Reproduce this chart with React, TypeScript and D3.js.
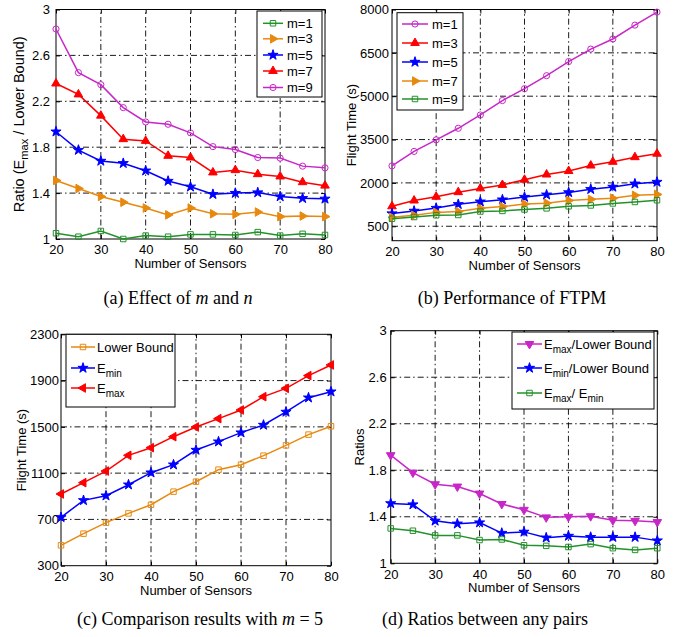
import React, { useRef, useEffect } from 'react';
import * as d3 from 'd3';

// x values shared by every panel
const sensors = [20, 25, 30, 35, 40, 45, 50, 55, 60, 65, 70, 75, 80];
const sensorTicks = [20, 30, 40, 50, 60, 70, 80];

// (a) ratio Emax / lower bound for different m
const ratioM1 = [1.05, 1.02, 1.07, 1.0, 1.03, 1.02, 1.04, 1.04, 1.035, 1.06, 1.03, 1.045, 1.035];
const ratioM3 = [1.51, 1.44, 1.37, 1.32, 1.27, 1.21, 1.27, 1.22, 1.215, 1.235, 1.195, 1.2, 1.195];
const ratioM5 = [1.935, 1.775, 1.68, 1.66, 1.595, 1.505, 1.455, 1.39, 1.4, 1.405, 1.37, 1.355, 1.35];
const ratioM7 = [2.355, 2.26, 2.075, 1.87, 1.855, 1.725, 1.71, 1.58, 1.6, 1.565, 1.545, 1.495, 1.465];
const ratioM9 = [2.83, 2.45, 2.345, 2.145, 2.02, 2.0, 1.925, 1.805, 1.78, 1.71, 1.705, 1.635, 1.62];
const ratioTicks = [1, 1.4, 1.8, 2.2, 2.6, 3];

// (b) flight time of FTPM
const timeM1 = [2590, 3090, 3490, 3890, 4350, 4850, 5260, 5710, 6200, 6630, 6980, 7460, 7910];
const timeM3 = [1190, 1390, 1520, 1680, 1810, 1930, 2110, 2290, 2410, 2600, 2730, 2890, 3010];
const timeM5 = [940, 1030, 1130, 1260, 1350, 1420, 1510, 1590, 1670, 1780, 1860, 1970, 2030];
const timeM7 = [810, 880, 980, 1010, 1120, 1180, 1270, 1300, 1390, 1430, 1470, 1570, 1600];
const timeM9 = [760, 820, 880, 890, 1010, 1030, 1080, 1120, 1190, 1220, 1290, 1340, 1400];
const timeTicksB = [500, 2000, 3500, 5000, 6500, 8000];

// (c) comparison with m = 5
const lowerBound = [476, 577, 672, 752, 827, 940, 1026, 1130, 1173, 1251, 1340, 1433, 1505];
const eMin = [718, 865, 905, 1000, 1104, 1173, 1300, 1372, 1450, 1516, 1629, 1752, 1804];
const eMax = [920, 1018, 1118, 1254, 1320, 1415, 1499, 1571, 1646, 1761, 1833, 1943, 2035];
const timeTicksC = [300, 700, 1100, 1500, 1900, 2300];

// (d) ratios between pairs
const maxOverLb = [1.93, 1.78, 1.68, 1.66, 1.6, 1.51, 1.46, 1.395, 1.4, 1.405, 1.37, 1.365, 1.355];
const minOverLb = [1.515, 1.505, 1.365, 1.34, 1.35, 1.26, 1.27, 1.22, 1.235, 1.225, 1.225, 1.225, 1.195];
const maxOverMin = [1.3, 1.28, 1.24, 1.24, 1.2, 1.205, 1.155, 1.15, 1.14, 1.165, 1.13, 1.115, 1.13];

const GREEN = '#22922a';
const ORANGE = '#e8890f';
const BLUE = '#0000ff';
const RED = '#ff0000';
const MAGENTA = '#c826c8';

const SANS = '"Liberation Sans", Arial, Helvetica, sans-serif';
const SERIF = '"Liberation Serif", "Times New Roman", serif';

type Marker = 'square' | 'circle' | 'star' | 'triUp' | 'triDown' | 'triLeft' | 'triRight';
type Seg = { t: string; sub?: boolean; it?: boolean };
type Series = { label: Seg[]; values: number[]; color: string; marker: Marker };

type Panel = {
  box: [number, number, number, number]; // left, top, right, bottom
  yDomain: [number, number];
  yTicks: number[];
  yPad: number;
  yLabel: Seg[];
  yLabelX: number;
  yLabelSize: number;
  series: Series[];
  legendBox: [number, number, number, number];
  legendRows: number[];
  legendLine: [number, number];
  legendText: number;
  caption: Seg[];
  captionX: number;
  captionY: number;
};

const panels: Panel[] = [
  {
    box: [56, 9.5, 325, 239],
    yDomain: [1, 3],
    yTicks: ratioTicks,
    yPad: 6,
    yLabel: [{ t: 'Ratio (E' }, { t: 'max', sub: true }, { t: ' / Lower Bound)' }],
    yLabelX: 19,
    yLabelSize: 14.5,
    series: [
      { label: [{ t: 'm=1' }], values: ratioM1, color: GREEN, marker: 'square' },
      { label: [{ t: 'm=3' }], values: ratioM3, color: ORANGE, marker: 'triRight' },
      { label: [{ t: 'm=5' }], values: ratioM5, color: BLUE, marker: 'star' },
      { label: [{ t: 'm=7' }], values: ratioM7, color: RED, marker: 'triUp' },
      { label: [{ t: 'm=9' }], values: ratioM9, color: MAGENTA, marker: 'circle' },
    ],
    legendBox: [257, 11, 322, 97],
    legendRows: [23.3, 38.8, 55, 71, 87.5],
    legendLine: [263, 283],
    legendText: 287,
    caption: [{ t: '(a) Effect of ' }, { t: 'm', it: true }, { t: ' and ' }, { t: 'n', it: true }],
    captionX: 178,
    captionY: 304,
  },
  {
    box: [392, 9.5, 657, 240.7],
    yDomain: [0, 8000],
    yTicks: timeTicksB,
    yPad: 3,
    yLabel: [{ t: 'Flight Time (s)' }],
    yLabelX: 351,
    yLabelSize: 13,
    series: [
      { label: [{ t: 'm=1' }], values: timeM1, color: MAGENTA, marker: 'circle' },
      { label: [{ t: 'm=3' }], values: timeM3, color: RED, marker: 'triUp' },
      { label: [{ t: 'm=5' }], values: timeM5, color: BLUE, marker: 'star' },
      { label: [{ t: 'm=7' }], values: timeM7, color: ORANGE, marker: 'triRight' },
      { label: [{ t: 'm=9' }], values: timeM9, color: GREEN, marker: 'square' },
    ],
    legendBox: [397, 12.7, 463, 110],
    legendRows: [24, 43, 62, 81, 99],
    legendLine: [402, 428],
    legendText: 432,
    caption: [{ t: '(b) Performance of FTPM' }],
    captionX: 512,
    captionY: 304,
  },
  {
    box: [61, 334.3, 331, 565.7],
    yDomain: [300, 2300],
    yTicks: timeTicksC,
    yPad: 2,
    yLabel: [{ t: 'Flight Time (s)' }],
    yLabelX: 21,
    yLabelSize: 13,
    series: [
      { label: [{ t: 'Lower Bound' }], values: lowerBound, color: ORANGE, marker: 'square' },
      { label: [{ t: 'E' }, { t: 'min', sub: true }], values: eMin, color: BLUE, marker: 'star' },
      { label: [{ t: 'E' }, { t: 'max', sub: true }], values: eMax, color: RED, marker: 'triLeft' },
    ],
    legendBox: [66, 334.3, 175, 407],
    legendRows: [347, 368, 388],
    legendLine: [71, 95],
    legendText: 97,
    caption: [{ t: '(c) Comparison results with ' }, { t: 'm', it: true }, { t: ' = 5' }],
    captionX: 200,
    captionY: 625,
  },
  {
    box: [390.7, 330.7, 657.3, 563.3],
    yDomain: [1, 3],
    yTicks: ratioTicks,
    yPad: 4,
    yLabel: [{ t: 'Ratios' }],
    yLabelX: 359,
    yLabelSize: 13,
    series: [
      { label: [{ t: 'E' }, { t: 'max', sub: true }, { t: '/Lower Bound' }], values: maxOverLb, color: MAGENTA, marker: 'triDown' },
      { label: [{ t: 'E' }, { t: 'min', sub: true }, { t: '/Lower Bound' }], values: minOverLb, color: BLUE, marker: 'star' },
      { label: [{ t: 'E' }, { t: 'max', sub: true }, { t: '/ E' }, { t: 'min', sub: true }], values: maxOverMin, color: GREEN, marker: 'square' },
    ],
    legendBox: [512, 332, 654, 409],
    legendRows: [344, 368, 393],
    legendLine: [517, 542],
    legendText: 544,
    caption: [{ t: '(d) Ratios between any pairs' }],
    captionX: 485,
    captionY: 625,
  },
];

const symbolOf = (m: Marker) => {
  switch (m) {
    case 'square': return { type: d3.symbolSquare, size: 30, rot: 0, fill: false };
    case 'circle': return { type: d3.symbolCircle, size: 30, rot: 0, fill: false };
    case 'star': return { type: d3.symbolStar, size: 32, rot: 0, fill: true };
    case 'triUp': return { type: d3.symbolTriangle, size: 32, rot: 0, fill: true };
    case 'triDown': return { type: d3.symbolTriangle, size: 32, rot: 180, fill: true };
    case 'triLeft': return { type: d3.symbolTriangle, size: 32, rot: -90, fill: true };
    default: return { type: d3.symbolTriangle, size: 32, rot: 90, fill: true };
  }
};

// write text segments with subscripts into a <text>
const writeSegs = (text: any, segs: Seg[], size: number) => {
  let down = false;
  segs.forEach(s => {
    const ts = text.append('tspan').text(s.t);
    if (s.sub) {
      ts.attr('font-size', size * 0.77);
      if (!down) { ts.attr('dy', 4); down = true; }
    } else if (down) {
      ts.attr('dy', -4);
      down = false;
    }
    if (s.it) ts.attr('font-style', 'italic');
  });
};

const drawMarker = (g: any, m: Marker, color: string, cx: number, cy: number) => {
  const s = symbolOf(m);
  g.append('path')
    .attr('d', d3.symbol().type(s.type).size(s.size)())
    .attr('transform', `translate(${cx},${cy}) rotate(${s.rot})`)
    .attr('fill', s.fill ? color : 'none')
    .attr('stroke', color)
    .attr('stroke-width', 1);
};

const tickFmt = d3.format('~g');

const drawPanel = (svg: any, p: Panel) => {
  const [left, top, right, bottom] = p.box;
  const x = d3.scaleLinear().domain([20, 80]).range([left, right]);
  const y = d3.scaleLinear().domain(p.yDomain).range([bottom, top]);
  const g = svg.append('g');

  g.append('rect')
    .attr('x', left).attr('y', top)
    .attr('width', right - left).attr('height', bottom - top)
    .attr('fill', '#fff');

  // dash-dot grid on interior ticks
  const grid = g.append('g')
    .attr('stroke', '#000')
    .attr('stroke-width', 0.9)
    .attr('stroke-dasharray', '6,3,1.5,3');
  sensorTicks.filter(t => t !== 20 && t !== 80).forEach(t => {
    grid.append('line').attr('x1', x(t)).attr('x2', x(t)).attr('y1', bottom).attr('y2', top);
  });
  p.yTicks.filter(t => t !== p.yDomain[0] && t !== p.yDomain[1]).forEach(t => {
    grid.append('line').attr('x1', left).attr('x2', right).attr('y1', y(t)).attr('y2', y(t));
  });

  // axes, ticks pointing inward
  const xAxis = g.append('g')
    .attr('transform', `translate(0,${bottom})`)
    .call(d3.axisBottom(x).tickValues(sensorTicks).tickSize(-4).tickPadding(6).tickFormat(tickFmt));
  const yAxis = g.append('g')
    .attr('transform', `translate(${left},0)`)
    .call(d3.axisLeft(y).tickValues(p.yTicks).tickSize(-4).tickPadding(p.yPad).tickFormat(tickFmt));
  g.append('g')
    .attr('transform', `translate(0,${top})`)
    .call(d3.axisTop(x).tickValues(sensorTicks).tickSize(-4).tickFormat(() => ''));
  g.append('g')
    .attr('transform', `translate(${right},0)`)
    .call(d3.axisRight(y).tickValues(p.yTicks).tickSize(-4).tickFormat(() => ''));
  g.selectAll('.domain').remove();
  g.selectAll('.tick line').attr('stroke', '#000');
  [xAxis, yAxis].forEach(a => a.selectAll('text')
    .attr('font-family', SANS).attr('font-size', 13).attr('fill', '#000'));

  g.append('rect')
    .attr('x', left).attr('y', top)
    .attr('width', right - left).attr('height', bottom - top)
    .attr('fill', 'none').attr('stroke', '#000').attr('stroke-width', 1);

  // series
  const ln = d3.line<number>().x((_, i) => x(sensors[i])).y(d => y(d));
  p.series.forEach(s => {
    g.append('path')
      .attr('d', ln(s.values))
      .attr('fill', 'none')
      .attr('stroke', s.color)
      .attr('stroke-width', 1.5);
    s.values.forEach((v, i) => drawMarker(g, s.marker, s.color, x(sensors[i]), y(v)));
  });

  // axis labels
  g.append('text')
    .attr('x', (left + right) / 2)
    .attr('y', bottom + 29)
    .attr('text-anchor', 'middle')
    .attr('font-family', SANS).attr('font-size', 13)
    .text('Number of Sensors');
  const yl = g.append('text')
    .attr('transform', `translate(${p.yLabelX},${(top + bottom) / 2}) rotate(-90)`)
    .attr('text-anchor', 'middle')
    .attr('dy', '0.35em')
    .attr('font-family', SANS).attr('font-size', p.yLabelSize);
  writeSegs(yl, p.yLabel, p.yLabelSize);

  // legend
  const [lx0, ly0, lx1, ly1] = p.legendBox;
  g.append('rect')
    .attr('x', lx0).attr('y', ly0)
    .attr('width', lx1 - lx0).attr('height', ly1 - ly0)
    .attr('fill', '#fff').attr('stroke', '#000').attr('stroke-width', 1);
  p.series.forEach((s, i) => {
    const ry = p.legendRows[i];
    g.append('line')
      .attr('x1', p.legendLine[0]).attr('x2', p.legendLine[1])
      .attr('y1', ry).attr('y2', ry)
      .attr('stroke', s.color).attr('stroke-width', 1.5);
    drawMarker(g, s.marker, s.color, (p.legendLine[0] + p.legendLine[1]) / 2, ry);
    const t = g.append('text')
      .attr('x', p.legendText).attr('y', ry + 4.6)
      .attr('font-family', SANS).attr('font-size', 13);
    writeSegs(t, s.label, 13);
  });

  // caption
  const c = g.append('text')
    .attr('x', p.captionX).attr('y', p.captionY)
    .attr('text-anchor', 'middle')
    .attr('font-family', SERIF).attr('font-size', 18);
  writeSegs(c, p.caption, 18);
};

const App = () => {
  const svgRef = useRef<SVGSVGElement>(null);

  useEffect(() => {
    const svg = d3.select(svgRef.current);
    svg.selectAll('*').remove();
    panels.forEach(p => drawPanel(svg, p));
  }, []);

  return (
    <div style={{ position: 'absolute', left: 0, top: 0 }}>
      <svg ref={svgRef} width={689} height={637} style={{ display: 'block', background: '#fff' }} />
    </div>
  );
};

export default App;
